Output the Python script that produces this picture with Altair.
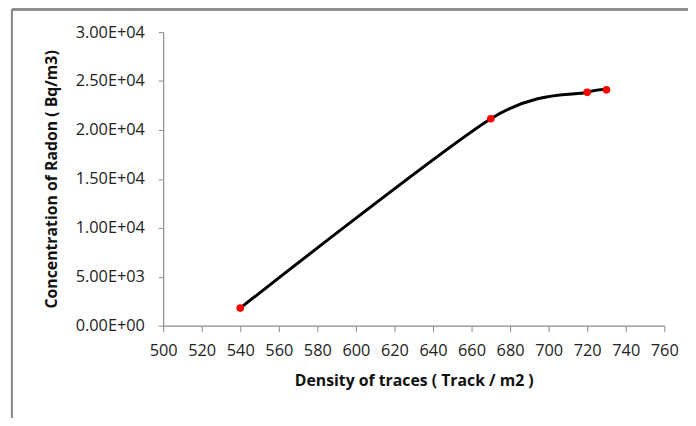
import altair as alt
import pandas as pd

density = [540, 670, 720, 730]
radon = [1800, 21150, 23850, 24100]
x_ticks = list(range(500, 761, 20))
y_ticks = list(range(0, 30001, 5000))

df = pd.DataFrame({"density": density, "radon": radon})

FONT = "Open Sans"
W, H = 507, 297

x_enc = alt.X("density:Q",
              scale=alt.Scale(domain=[500, 760], nice=False, zero=False),
              axis=alt.Axis(title="Density of traces ( Track / m2 )",
                            values=x_ticks, grid=False,
                            tickSize=6, labelPadding=11, titlePadding=14,
                            labelFlush=False, labelOverlap=False))
y_enc = alt.Y("radon:Q",
              scale=alt.Scale(domain=[0, 30000], nice=False),
              axis=alt.Axis(title="Concentration of Radon ( Bq/m3)",
                            values=y_ticks, grid=False,
                            tickSize=5, labelPadding=14, titlePadding=16,
                            labelOverlap=False,
                            labelExpr="datum.value >= 10000 ? format(datum.value/10000, '.2f') + 'E+04' : (datum.value > 0 ? format(datum.value/1000, '.2f') + 'E+03' : '0.00E+00')"))

line = alt.Chart(df).mark_line(color="black", strokeWidth=3, interpolate="cardinal", tension=0.2).encode(
    x=x_enc, y=y_enc)
pts = alt.Chart(df).mark_circle(color="#ff0000", size=60, opacity=1).encode(
    x=x_enc, y=y_enc)

frame_left = alt.Chart(df).mark_rule(color="#8a8a8a", strokeWidth=2).encode(
    x=alt.value(-153), y=alt.value(-23), y2=alt.value(420))
frame_top = alt.Chart(df).mark_rule(color="#8a8a8a", strokeWidth=2).encode(
    x=alt.value(-153), x2=alt.value(600), y=alt.value(-23))

chart = alt.layer(frame_left, frame_top, line, pts).properties(
    width=W, height=H,
    autosize=alt.AutoSizeParams(type="none"),
    padding={"left": 157, "top": 22, "right": 24, "bottom": 91},
).configure_view(stroke=None).configure_axis(
    domainColor="#8a8a8a", tickColor="#8a8a8a", domainWidth=1.2,
    labelFont=FONT, labelFontSize=16.5, labelColor="#222",
    titleFont=FONT, titleFontSize=16, titleFontWeight="bold", titleColor="#111",
)

chart.save("out.html", embed_options={"renderer": "svg", "actions": False})
